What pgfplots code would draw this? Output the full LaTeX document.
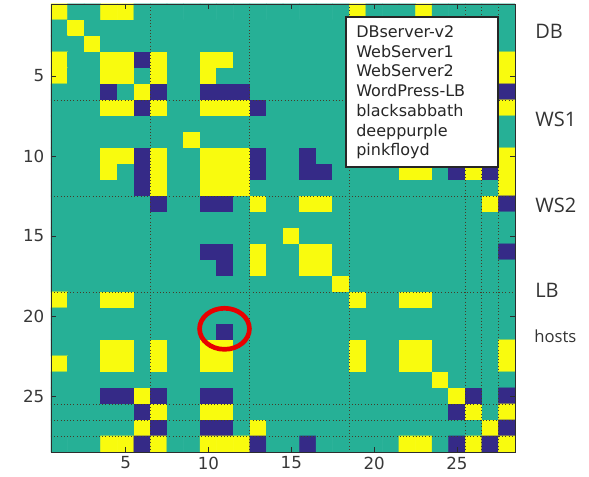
\documentclass[border=0pt]{standalone}
\usepackage{pgfplots}
\pgfplotsset{compat=1.18}
\usepackage{fontspec}
\setmainfont{DejaVu Sans}
\newfontfamily\labfont{Open Sans}
\definecolor{axgray}{RGB}{45,45,45}
\definecolor{divcol}{RGB}{70,60,40}
\definecolor{ringred}{RGB}{232,0,0}
\begin{document}
\begin{tikzpicture}
\useasboundingbox (0,0) rectangle (441.75pt,357.75pt);
\begin{axis}[
  at={(38.25pt,18.75pt)}, anchor=south west,
  width=348pt, height=336pt, scale only axis,
  xmin=0.5, xmax=28.5, ymin=0.5, ymax=28.5, y dir=reverse,
  xtick={5,10,15,20,25}, ytick={5,10,15,20,25},
  tick align=inside, tick pos=both,
  major tick length=3.5pt,
  axis line style={axgray, line width=0.6pt},
  tick style={axgray, line width=0.6pt},
  ticklabel style={font=\fontsize{12.5}{14}\selectfont, text=black!78},
  yticklabel style={xshift=-1.5pt},
  /pgf/number format/assume math mode=true,
  colormap={parthree}{rgb255(0cm)=(53,42,135); rgb255(1cm)=(38,176,150); rgb255(2cm)=(249,251,14)},
  point meta min=-1, point meta max=1,
  axis on top,
]
\addplot[matrix plot*, mesh/cols=28, point meta=explicit] coordinates {
(1,1)[1] (2,1)[0] (3,1)[0] (4,1)[1] (5,1)[1] (6,1)[0] (7,1)[0] (8,1)[0] (9,1)[0] (10,1)[0] (11,1)[0] (12,1)[0] (13,1)[0] (14,1)[0] (15,1)[0] (16,1)[0] (17,1)[0] (18,1)[0] (19,1)[1] (20,1)[0] (21,1)[0] (22,1)[0] (23,1)[1] (24,1)[0] (25,1)[0] (26,1)[0] (27,1)[0] (28,1)[0]

(1,2)[0] (2,2)[1] (3,2)[0] (4,2)[0] (5,2)[0] (6,2)[0] (7,2)[0] (8,2)[0] (9,2)[0] (10,2)[0] (11,2)[0] (12,2)[0] (13,2)[0] (14,2)[0] (15,2)[0] (16,2)[0] (17,2)[0] (18,2)[0] (19,2)[0] (20,2)[0] (21,2)[0] (22,2)[0] (23,2)[0] (24,2)[0] (25,2)[0] (26,2)[0] (27,2)[0] (28,2)[0]

(1,3)[0] (2,3)[0] (3,3)[1] (4,3)[0] (5,3)[0] (6,3)[0] (7,3)[0] (8,3)[0] (9,3)[0] (10,3)[0] (11,3)[0] (12,3)[0] (13,3)[0] (14,3)[0] (15,3)[0] (16,3)[0] (17,3)[0] (18,3)[0] (19,3)[0] (20,3)[0] (21,3)[0] (22,3)[0] (23,3)[0] (24,3)[0] (25,3)[0] (26,3)[0] (27,3)[0] (28,3)[0]

(1,4)[1] (2,4)[0] (3,4)[0] (4,4)[1] (5,4)[1] (6,4)[-1] (7,4)[1] (8,4)[0] (9,4)[0] (10,4)[1] (11,4)[1] (12,4)[0] (13,4)[0] (14,4)[0] (15,4)[0] (16,4)[0] (17,4)[0] (18,4)[0] (19,4)[1] (20,4)[0] (21,4)[0] (22,4)[1] (23,4)[1] (24,4)[0] (25,4)[-1] (26,4)[0] (27,4)[0] (28,4)[1]

(1,5)[1] (2,5)[0] (3,5)[0] (4,5)[1] (5,5)[1] (6,5)[0] (7,5)[1] (8,5)[0] (9,5)[0] (10,5)[1] (11,5)[0] (12,5)[0] (13,5)[0] (14,5)[0] (15,5)[0] (16,5)[0] (17,5)[0] (18,5)[0] (19,5)[1] (20,5)[0] (21,5)[0] (22,5)[1] (23,5)[1] (24,5)[0] (25,5)[-1] (26,5)[0] (27,5)[0] (28,5)[1]

(1,6)[0] (2,6)[0] (3,6)[0] (4,6)[-1] (5,6)[0] (6,6)[1] (7,6)[-1] (8,6)[0] (9,6)[0] (10,6)[-1] (11,6)[-1] (12,6)[-1] (13,6)[0] (14,6)[0] (15,6)[0] (16,6)[0] (17,6)[0] (18,6)[0] (19,6)[0] (20,6)[0] (21,6)[0] (22,6)[0] (23,6)[0] (24,6)[0] (25,6)[1] (26,6)[-1] (27,6)[1] (28,6)[-1]

(1,7)[0] (2,7)[0] (3,7)[0] (4,7)[1] (5,7)[1] (6,7)[-1] (7,7)[1] (8,7)[0] (9,7)[0] (10,7)[1] (11,7)[1] (12,7)[1] (13,7)[-1] (14,7)[0] (15,7)[0] (16,7)[0] (17,7)[0] (18,7)[0] (19,7)[0] (20,7)[0] (21,7)[0] (22,7)[1] (23,7)[1] (24,7)[0] (25,7)[-1] (26,7)[1] (27,7)[-1] (28,7)[1]

(1,8)[0] (2,8)[0] (3,8)[0] (4,8)[0] (5,8)[0] (6,8)[0] (7,8)[0] (8,8)[0] (9,8)[0] (10,8)[0] (11,8)[0] (12,8)[0] (13,8)[0] (14,8)[0] (15,8)[0] (16,8)[0] (17,8)[0] (18,8)[0] (19,8)[0] (20,8)[0] (21,8)[0] (22,8)[0] (23,8)[0] (24,8)[0] (25,8)[0] (26,8)[0] (27,8)[0] (28,8)[0]

(1,9)[0] (2,9)[0] (3,9)[0] (4,9)[0] (5,9)[0] (6,9)[0] (7,9)[0] (8,9)[0] (9,9)[1] (10,9)[0] (11,9)[0] (12,9)[0] (13,9)[0] (14,9)[0] (15,9)[0] (16,9)[0] (17,9)[0] (18,9)[0] (19,9)[0] (20,9)[0] (21,9)[0] (22,9)[0] (23,9)[0] (24,9)[0] (25,9)[0] (26,9)[0] (27,9)[0] (28,9)[0]

(1,10)[0] (2,10)[0] (3,10)[0] (4,10)[1] (5,10)[1] (6,10)[-1] (7,10)[1] (8,10)[0] (9,10)[0] (10,10)[1] (11,10)[1] (12,10)[1] (13,10)[-1] (14,10)[0] (15,10)[0] (16,10)[-1] (17,10)[0] (18,10)[0] (19,10)[0] (20,10)[0] (21,10)[0] (22,10)[1] (23,10)[1] (24,10)[0] (25,10)[-1] (26,10)[1] (27,10)[-1] (28,10)[1]

(1,11)[0] (2,11)[0] (3,11)[0] (4,11)[1] (5,11)[0] (6,11)[-1] (7,11)[1] (8,11)[0] (9,11)[0] (10,11)[1] (11,11)[1] (12,11)[1] (13,11)[-1] (14,11)[0] (15,11)[0] (16,11)[-1] (17,11)[-1] (18,11)[0] (19,11)[0] (20,11)[0] (21,11)[0] (22,11)[1] (23,11)[1] (24,11)[0] (25,11)[-1] (26,11)[1] (27,11)[-1] (28,11)[1]

(1,12)[0] (2,12)[0] (3,12)[0] (4,12)[0] (5,12)[0] (6,12)[-1] (7,12)[1] (8,12)[0] (9,12)[0] (10,12)[1] (11,12)[1] (12,12)[1] (13,12)[0] (14,12)[0] (15,12)[0] (16,12)[0] (17,12)[0] (18,12)[0] (19,12)[0] (20,12)[0] (21,12)[0] (22,12)[0] (23,12)[0] (24,12)[0] (25,12)[0] (26,12)[0] (27,12)[0] (28,12)[1]

(1,13)[0] (2,13)[0] (3,13)[0] (4,13)[0] (5,13)[0] (6,13)[0] (7,13)[-1] (8,13)[0] (9,13)[0] (10,13)[-1] (11,13)[-1] (12,13)[0] (13,13)[1] (14,13)[0] (15,13)[0] (16,13)[1] (17,13)[1] (18,13)[0] (19,13)[0] (20,13)[0] (21,13)[0] (22,13)[0] (23,13)[0] (24,13)[0] (25,13)[0] (26,13)[0] (27,13)[1] (28,13)[-1]

(1,14)[0] (2,14)[0] (3,14)[0] (4,14)[0] (5,14)[0] (6,14)[0] (7,14)[0] (8,14)[0] (9,14)[0] (10,14)[0] (11,14)[0] (12,14)[0] (13,14)[0] (14,14)[0] (15,14)[0] (16,14)[0] (17,14)[0] (18,14)[0] (19,14)[0] (20,14)[0] (21,14)[0] (22,14)[0] (23,14)[0] (24,14)[0] (25,14)[0] (26,14)[0] (27,14)[0] (28,14)[0]

(1,15)[0] (2,15)[0] (3,15)[0] (4,15)[0] (5,15)[0] (6,15)[0] (7,15)[0] (8,15)[0] (9,15)[0] (10,15)[0] (11,15)[0] (12,15)[0] (13,15)[0] (14,15)[0] (15,15)[1] (16,15)[0] (17,15)[0] (18,15)[0] (19,15)[0] (20,15)[0] (21,15)[0] (22,15)[0] (23,15)[0] (24,15)[0] (25,15)[0] (26,15)[0] (27,15)[0] (28,15)[0]

(1,16)[0] (2,16)[0] (3,16)[0] (4,16)[0] (5,16)[0] (6,16)[0] (7,16)[0] (8,16)[0] (9,16)[0] (10,16)[-1] (11,16)[-1] (12,16)[0] (13,16)[1] (14,16)[0] (15,16)[0] (16,16)[1] (17,16)[1] (18,16)[0] (19,16)[0] (20,16)[0] (21,16)[0] (22,16)[0] (23,16)[0] (24,16)[0] (25,16)[0] (26,16)[0] (27,16)[0] (28,16)[-1]

(1,17)[0] (2,17)[0] (3,17)[0] (4,17)[0] (5,17)[0] (6,17)[0] (7,17)[0] (8,17)[0] (9,17)[0] (10,17)[0] (11,17)[-1] (12,17)[0] (13,17)[1] (14,17)[0] (15,17)[0] (16,17)[1] (17,17)[1] (18,17)[0] (19,17)[0] (20,17)[0] (21,17)[0] (22,17)[0] (23,17)[0] (24,17)[0] (25,17)[0] (26,17)[0] (27,17)[0] (28,17)[0]

(1,18)[0] (2,18)[0] (3,18)[0] (4,18)[0] (5,18)[0] (6,18)[0] (7,18)[0] (8,18)[0] (9,18)[0] (10,18)[0] (11,18)[0] (12,18)[0] (13,18)[0] (14,18)[0] (15,18)[0] (16,18)[0] (17,18)[0] (18,18)[1] (19,18)[0] (20,18)[0] (21,18)[0] (22,18)[0] (23,18)[0] (24,18)[0] (25,18)[0] (26,18)[0] (27,18)[0] (28,18)[0]

(1,19)[1] (2,19)[0] (3,19)[0] (4,19)[1] (5,19)[1] (6,19)[0] (7,19)[0] (8,19)[0] (9,19)[0] (10,19)[0] (11,19)[0] (12,19)[0] (13,19)[0] (14,19)[0] (15,19)[0] (16,19)[0] (17,19)[0] (18,19)[0] (19,19)[1] (20,19)[0] (21,19)[0] (22,19)[1] (23,19)[1] (24,19)[0] (25,19)[0] (26,19)[0] (27,19)[0] (28,19)[0]

(1,20)[0] (2,20)[0] (3,20)[0] (4,20)[0] (5,20)[0] (6,20)[0] (7,20)[0] (8,20)[0] (9,20)[0] (10,20)[0] (11,20)[0] (12,20)[0] (13,20)[0] (14,20)[0] (15,20)[0] (16,20)[0] (17,20)[0] (18,20)[0] (19,20)[0] (20,20)[0] (21,20)[0] (22,20)[0] (23,20)[0] (24,20)[0] (25,20)[0] (26,20)[0] (27,20)[0] (28,20)[0]

(1,21)[0] (2,21)[0] (3,21)[0] (4,21)[0] (5,21)[0] (6,21)[0] (7,21)[0] (8,21)[0] (9,21)[0] (10,21)[0] (11,21)[-1] (12,21)[0] (13,21)[0] (14,21)[0] (15,21)[0] (16,21)[0] (17,21)[0] (18,21)[0] (19,21)[0] (20,21)[0] (21,21)[0] (22,21)[0] (23,21)[0] (24,21)[0] (25,21)[0] (26,21)[0] (27,21)[0] (28,21)[0]

(1,22)[0] (2,22)[0] (3,22)[0] (4,22)[1] (5,22)[1] (6,22)[0] (7,22)[1] (8,22)[0] (9,22)[0] (10,22)[1] (11,22)[1] (12,22)[0] (13,22)[0] (14,22)[0] (15,22)[0] (16,22)[0] (17,22)[0] (18,22)[0] (19,22)[1] (20,22)[0] (21,22)[0] (22,22)[1] (23,22)[1] (24,22)[0] (25,22)[0] (26,22)[0] (27,22)[0] (28,22)[1]

(1,23)[1] (2,23)[0] (3,23)[0] (4,23)[1] (5,23)[1] (6,23)[0] (7,23)[1] (8,23)[0] (9,23)[0] (10,23)[1] (11,23)[1] (12,23)[0] (13,23)[0] (14,23)[0] (15,23)[0] (16,23)[0] (17,23)[0] (18,23)[0] (19,23)[1] (20,23)[0] (21,23)[0] (22,23)[1] (23,23)[1] (24,23)[0] (25,23)[0] (26,23)[0] (27,23)[0] (28,23)[1]

(1,24)[0] (2,24)[0] (3,24)[0] (4,24)[0] (5,24)[0] (6,24)[0] (7,24)[0] (8,24)[0] (9,24)[0] (10,24)[0] (11,24)[0] (12,24)[0] (13,24)[0] (14,24)[0] (15,24)[0] (16,24)[0] (17,24)[0] (18,24)[0] (19,24)[0] (20,24)[0] (21,24)[0] (22,24)[0] (23,24)[0] (24,24)[1] (25,24)[0] (26,24)[0] (27,24)[0] (28,24)[0]

(1,25)[0] (2,25)[0] (3,25)[0] (4,25)[-1] (5,25)[-1] (6,25)[1] (7,25)[-1] (8,25)[0] (9,25)[0] (10,25)[-1] (11,25)[-1] (12,25)[0] (13,25)[0] (14,25)[0] (15,25)[0] (16,25)[0] (17,25)[0] (18,25)[0] (19,25)[0] (20,25)[0] (21,25)[0] (22,25)[0] (23,25)[0] (24,25)[0] (25,25)[1] (26,25)[-1] (27,25)[0] (28,25)[-1]

(1,26)[0] (2,26)[0] (3,26)[0] (4,26)[0] (5,26)[0] (6,26)[-1] (7,26)[1] (8,26)[0] (9,26)[0] (10,26)[1] (11,26)[1] (12,26)[0] (13,26)[0] (14,26)[0] (15,26)[0] (16,26)[0] (17,26)[0] (18,26)[0] (19,26)[0] (20,26)[0] (21,26)[0] (22,26)[0] (23,26)[0] (24,26)[0] (25,26)[-1] (26,26)[1] (27,26)[0] (28,26)[1]

(1,27)[0] (2,27)[0] (3,27)[0] (4,27)[0] (5,27)[0] (6,27)[1] (7,27)[-1] (8,27)[0] (9,27)[0] (10,27)[-1] (11,27)[-1] (12,27)[0] (13,27)[1] (14,27)[0] (15,27)[0] (16,27)[0] (17,27)[0] (18,27)[0] (19,27)[0] (20,27)[0] (21,27)[0] (22,27)[0] (23,27)[0] (24,27)[0] (25,27)[0] (26,27)[0] (27,27)[1] (28,27)[-1]

(1,28)[0] (2,28)[0] (3,28)[0] (4,28)[1] (5,28)[1] (6,28)[-1] (7,28)[1] (8,28)[0] (9,28)[0] (10,28)[1] (11,28)[1] (12,28)[1] (13,28)[-1] (14,28)[0] (15,28)[0] (16,28)[-1] (17,28)[0] (18,28)[0] (19,28)[0] (20,28)[0] (21,28)[0] (22,28)[1] (23,28)[1] (24,28)[0] (25,28)[-1] (26,28)[1] (27,28)[-1] (28,28)[1]
};
\tikzset{divider/.style={divcol, line width=0.6pt, dash pattern=on 0.8pt off 1.6pt}}
\foreach \p in {6.5,12.5,18.5,25.5,26.5,27.5}{
  \edef\tmp{\noexpand\draw[divider] (axis cs:\p,0.5) -- (axis cs:\p,28.5);
            \noexpand\draw[divider] (axis cs:0.5,\p) -- (axis cs:28.5,\p);}
  \tmp
}
% highlight ring around the asymmetric cell (11,21)
\draw[ringred, line width=3.5pt] (axis cs:10.97,20.8) ellipse [x radius=18.7pt, y radius=15.4pt];
\end{axis}
% legend box (text list)
\draw[fill=white, draw=black!85, line width=0.8pt] (259.5pt,232.5pt) rectangle (373.5pt,345pt);
\begin{scope}[every node/.style={anchor=base west, inner sep=0pt, font=\fontsize{12}{14}\selectfont, text=black!85}]
\node at (267pt,329.6pt) {DBserver-v2};
\node at (267pt,314.8pt) {WebServer1};
\node at (267pt,300.0pt) {WebServer2};
\node at (267pt,285.2pt) {WordPress-LB};
\node at (267pt,270.4pt) {blacksabbath};
\node at (267pt,255.6pt) {deeppurple};
\node at (267pt,240.8pt) {pinkfloyd};
\end{scope}
% group labels on the right
\begin{scope}[every node/.style={anchor=base west, inner sep=0pt, text=black!80}]
\node[font=\labfont\fontsize{15}{18}\selectfont] at (401.25pt,328.5pt) {DB};
\node[font=\labfont\fontsize{15}{18}\selectfont] at (401.25pt,262.5pt) {WS1};
\node[font=\labfont\fontsize{15}{18}\selectfont] at (401.25pt,198.0pt) {WS2};
\node[font=\labfont\fontsize{15}{18}\selectfont] at (401.25pt,134.25pt) {LB};
\node[font=\labfont\fontsize{12.5}{15}\selectfont] at (400.5pt,100.5pt) {hosts};
\end{scope}
\end{tikzpicture}
\end{document}
